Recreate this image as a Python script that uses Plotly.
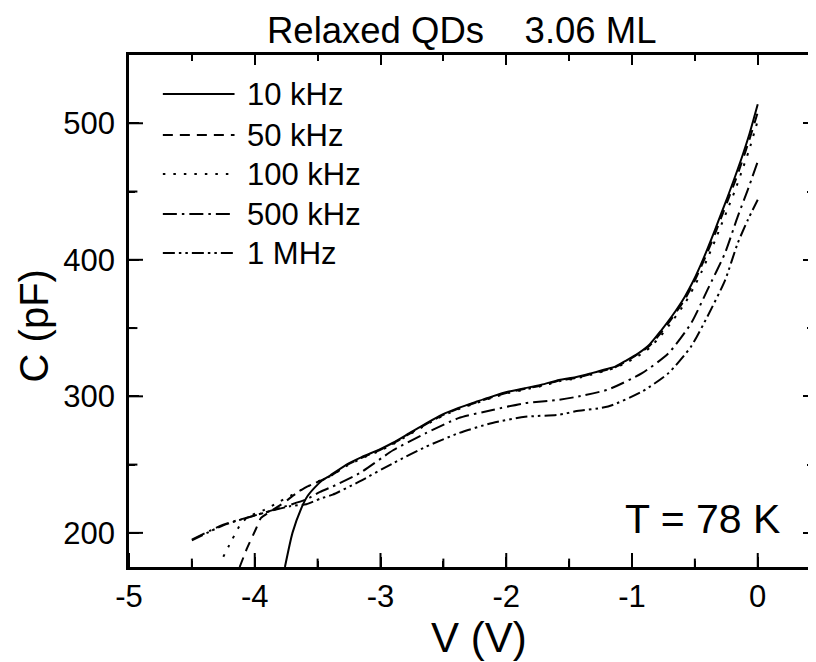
import plotly.graph_objects as go

# ── data (V in volts, C in pF) ────────────────────────────────────────────────

v_10k = [-3.76, -3.70, -3.63, -3.58, -3.52, -3.47, -3.40, -3.27, -3.15, -3.01,
         -2.90, -2.77, -2.64, -2.51, -2.38, -2.24, -2.11, -1.98, -1.85, -1.72,
         -1.58, -1.45, -1.32, -1.20, -1.13, -1.05, -0.95, -0.86, -0.77, -0.68,
         -0.58, -0.51, -0.45, -0.40, -0.34, -0.29, -0.24, -0.18, -0.13, -0.07, 0.0]
c_10k = [175, 200, 218, 227, 233.5, 238, 242, 250, 255.5, 261,
         266, 273, 280, 286.5, 291.5, 296, 300, 303.5, 306, 308.5,
         312, 314, 317, 320, 322, 326, 331.5, 338, 348, 359,
         373, 385, 397, 408, 422, 434, 446, 461, 474, 491, 514]

v_50k = [-4.12, -4.06, -3.99, -3.95, -3.87, -3.77, -3.67, -3.58, -3.47, -3.40,
         -3.27, -3.15, -3.01, -2.90, -2.77, -2.64, -2.51, -2.38, -2.24, -2.11,
         -1.98, -1.85, -1.72, -1.58, -1.45, -1.32, -1.20, -1.13, -1.05, -0.95,
         -0.86, -0.77, -0.68, -0.58, -0.51, -0.45, -0.40, -0.34, -0.29, -0.24,
         -0.18, -0.13, -0.07, 0.0]
c_50k = [175, 189, 203, 211, 216, 222, 229, 234, 238.5, 241.5,
         249.5, 255, 260.5, 265.5, 272.5, 279.5, 286, 291, 295.5, 299.5,
         303, 305.5, 308, 311.5, 313.5, 316.5, 319.5, 321.5, 325.5, 331,
         337, 346.5, 357.5, 371, 383, 395, 405.5, 419, 431, 443,
         457.5, 470.5, 487, 508]

v_100k = [-4.25, -4.18, -4.10, -4.02, -3.92, -3.80, -3.70, -3.60, -3.50, -3.40,
          -3.27, -3.15, -3.01, -2.90, -2.77, -2.64, -2.51, -2.38, -2.24, -2.11,
          -1.98, -1.85, -1.72, -1.58, -1.45, -1.32, -1.20, -1.13, -1.05, -0.95,
          -0.86, -0.77, -0.68, -0.58, -0.51, -0.45, -0.40, -0.34, -0.29, -0.24,
          -0.18, -0.13, -0.07, 0.0]
c_100k = [182.5, 195, 208, 213, 217, 223, 228, 233, 237.5, 241.5,
          249, 254.5, 260, 265, 272, 279, 285.5, 290.5, 295, 299,
          302.5, 305, 307.5, 311, 313, 316, 319, 321, 324.5, 329.5,
          335.5, 344.5, 355, 368, 379.5, 390.5, 401, 414, 425.5, 437,
          451, 464, 480, 502]

v_500k = [-4.50, -4.25, -3.99, -3.72, -3.59, -3.48, -3.38, -3.17, -2.90, -2.64,
          -2.38, -2.11, -1.85, -1.58, -1.45, -1.19, -0.92, -0.71, -0.53, -0.40,
          -0.26, -0.16, -0.08, 0.0]
c_500k = [195, 206, 213, 220.5, 224.5, 230, 234, 243.5, 260.5, 273,
          284, 290, 295, 297.5, 299.5, 305, 317, 331.5, 353.5, 378,
          405, 431.5, 451, 472]

v_1m = [-4.50, -4.25, -3.99, -3.72, -3.59, -3.48, -3.38, -3.17, -2.90, -2.64,
        -2.38, -2.11, -1.85, -1.58, -1.45, -1.19, -0.92, -0.71, -0.53, -0.40,
        -0.26, -0.16, -0.08, 0.0]
c_1m = [194.5, 205.5, 213, 219.5, 221, 225, 228, 237.5, 251, 263,
        273, 280.5, 285, 286.5, 289, 292.5, 303.5, 317, 336.5, 358.5,
        385, 412, 429, 444]

series_names = ["10 kHz", "50 kHz", "100 kHz", "500 kHz", "1 MHz"]
series_v = [v_10k, v_50k, v_100k, v_500k, v_1m]
series_c = [c_10k, c_50k, c_100k, c_500k, c_1m]
dashes = ["solid", "10px,7px", "2.5px,8px", "14px,5px,2.5px,5px",
          "12px,4px,2.5px,4px,2.5px,4px"]

x_tick_vals = [-5, -4, -3, -2, -1, 0]
x_tick_text = ["-5", "-4", "-3", "-2", "-1", "0"]
x_minor_vals = [-4.5, -3.5, -2.5, -1.5, -0.5]
y_tick_vals = [200, 300, 400, 500]
y_tick_text = ["200", "300", "400", "500"]
y_minor_vals = [250, 350, 450]

FONT = "Liberation Sans, Arial, sans-serif"
OFF = 8                      # the page body adds an 8 px margin
W, H = 816 - OFF, 662 - OFF
L, R, T, B = 129 - OFF, 0, 55 - OFF, 95
PW, PH = W - L - R, H - T - B
X_RANGE = [-5, -5 + PW / 126.3]
Y_RANGE = [175, 550]


def px_x(p):  # window pixel -> paper x
    return (p - OFF - L) / PW


def px_y(p):  # window pixel -> paper y
    return (H - B - (p - OFF)) / PH


fig = go.Figure()

for name, v, c, d in zip(series_names, series_v, series_c, dashes):
    fig.add_trace(go.Scatter(
        x=v, y=c, mode="lines", name=name, showlegend=False,
        line=dict(color="black", width=2, dash=d, shape="spline", smoothing=0.6),
    ))

# inward ticks on the bottom and left frame: line markers sitting on the frame,
# half of each is clipped away by the plot area
for vals, size in ((x_tick_vals, 20), (x_minor_vals, 12)):
    fig.add_trace(go.Scatter(
        x=vals, y=[Y_RANGE[0]] * len(vals), mode="markers", showlegend=False,
        hoverinfo="skip",
        marker=dict(symbol="line-ns-open", size=size, color="black",
                    line=dict(width=2, color="black")),
    ))
for vals, size in ((y_tick_vals, 20), (y_minor_vals, 12)):
    fig.add_trace(go.Scatter(
        x=[X_RANGE[0]] * len(vals), y=vals, mode="markers", showlegend=False,
        hoverinfo="skip",
        marker=dict(symbol="line-ew-open", size=size, color="black",
                    line=dict(width=2, color="black")),
    ))

# hand-made legend (long sample lines like the original)
legend_rows = [94, 135, 174, 214, 253]
for name, d, yy in zip(series_names, dashes, legend_rows):
    fig.add_shape(type="line", xref="paper", yref="paper",
                  x0=px_x(163), x1=px_x(235), y0=px_y(yy), y1=px_y(yy),
                  line=dict(color="black", width=2, dash=d))
    fig.add_annotation(text=name, xref="paper", yref="paper",
                       x=px_x(246), y=px_y(yy), xanchor="left", yanchor="middle",
                       showarrow=False, font=dict(size=31, color="black", family=FONT))

fig.add_annotation(text="T = 78 K", xref="paper", yref="paper",
                   x=px_x(785), y=px_y(519), xanchor="right", yanchor="middle",
                   showarrow=False, font=dict(size=41, color="black", family=FONT))

fig.add_annotation(text="Relaxed QDs\u00a0\u00a0\u00a0\u00a03.06 ML", xref="paper", yref="paper",
                   x=px_x(463), y=px_y(30), xanchor="center", yanchor="middle",
                   showarrow=False, font=dict(size=36.5, color="black", family=FONT))

fig.add_annotation(text="V (V)", xref="paper", yref="paper",
                   x=px_x(430), y=px_y(637), xanchor="left", yanchor="middle",
                   showarrow=False, font=dict(size=42, color="black", family=FONT))

fig.add_annotation(text="C (pF)", xref="paper", yref="paper",
                   x=px_x(34), y=px_y(326), xanchor="center", yanchor="middle",
                   textangle=-90, showarrow=False,
                   font=dict(size=40, color="black", family=FONT))

tick_in = dict(ticks="inside", ticklen=10, tickwidth=2, tickcolor="black")
x_minor = dict(dtick=0.5, ticks="inside", ticklen=6, tickwidth=2, tickcolor="black")
y_minor = dict(dtick=50, ticks="inside", ticklen=6, tickwidth=2, tickcolor="black")

fig.update_layout(
    width=W, height=H,
    margin=dict(l=L, r=R, t=T, b=B),
    plot_bgcolor="white", paper_bgcolor="white",
    font=dict(family=FONT, color="black"),
    xaxis=dict(
        range=X_RANGE, tickvals=x_tick_vals, ticktext=x_tick_text,
        showgrid=False, zeroline=False, showline=True, linecolor="black",
        linewidth=2.5, mirror="allticks", minor=x_minor,
        tickfont=dict(size=31, color="black", family=FONT), **tick_in,
    ),
    yaxis=dict(
        range=Y_RANGE, tickvals=y_tick_vals, ticktext=y_tick_text,
        showgrid=False, zeroline=False, showline=True, linecolor="black",
        linewidth=2.5, mirror="allticks", minor=y_minor, ticklabelstandoff=5,
        tickfont=dict(size=31, color="black", family=FONT), **tick_in,
    ),
)

fig.write_html("out.html")
